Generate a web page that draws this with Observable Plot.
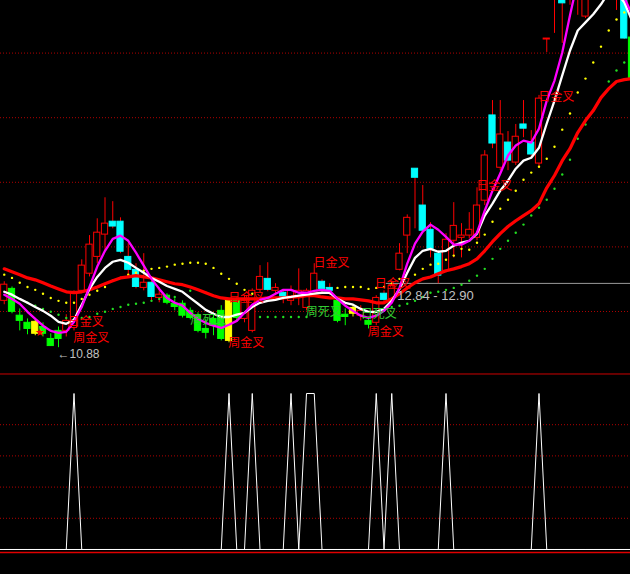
<!DOCTYPE html>
<html><head><meta charset="utf-8">
<script src="https://cdn.jsdelivr.net/npm/d3@7"></script>
<script src="https://cdn.jsdelivr.net/npm/@observablehq/plot@0.6"></script>
<style>html,body{margin:0;padding:0;background:#000;overflow:hidden}#chart svg{display:block}</style>
</head><body><div id="chart"></div>
<script>
// ---- daily candles (index 0..81) ----
const open = [12.33,12.70,11.87,11.65,11.68,11.52,11.15,11.40,11.40,11.49,
  12.64,13.17,13.69,14.38,14.78,14.78,13.69,13.29,12.73,12.89,
  12.42,12.49,12.24,12.24,12.02,11.87,11.46,11.77,12.02,12.33,
  12.33,11.77,11.40,12.67,13.01,12.64,12.58,12.33,12.45,12.11,
  12.55,12.92,12.73,12.33,11.90,12.11,11.87,11.71,11.65,12.55,
  12.39,13.29,14.35,16.42,15.28,14.53,13.79,13.26,14.19,14.28,
  14.35,14.28,15.43,18.07,16.45,17.23,16.61,17.79,17.23,16.58,
  20.42,21.94,21.94,21.79,22.25,21.13,22.25,22.87,24.11,23.49,
  21.79,20.48];
const close = [12.83,11.99,11.71,11.46,11.31,11.31,10.93,11.15,11.71,12.61,
  13.42,14.07,14.44,14.72,14.63,13.85,13.29,12.76,12.89,12.45,
  12.52,12.27,12.14,11.87,11.80,11.40,11.34,11.56,11.15,11.09,
  11.80,12.33,12.64,13.07,12.67,12.73,12.45,12.64,12.64,12.64,
  13.17,12.70,12.64,11.71,11.83,11.93,12.02,11.59,12.42,12.36,
  12.79,13.79,14.90,16.14,14.50,13.94,13.11,14.22,14.65,14.35,
  14.53,15.28,16.83,17.20,17.48,16.67,17.41,17.66,16.86,18.59,
  20.45,22.87,21.54,22.56,22.87,22.56,23.49,24.11,23.18,22.25,
  20.45,19.21];
const high = [12.92,12.76,12.08,11.77,11.74,11.65,11.31,11.52,11.90,12.64,
  13.60,14.35,14.87,15.52,15.40,14.90,14.10,13.48,13.79,12.95,
  12.73,12.55,12.39,12.33,12.11,11.96,11.77,11.96,12.18,12.39,
  12.42,12.49,12.70,13.42,13.51,12.86,12.64,12.79,13.32,12.70,
  13.48,12.98,12.86,12.39,12.08,12.18,12.18,11.83,12.49,12.64,
  12.95,14.10,14.99,16.42,15.90,14.75,13.88,14.41,15.37,14.72,
  15.06,15.83,16.98,18.53,18.53,17.57,17.79,18.53,17.60,18.69,
  20.45,23.18,22.25,22.87,23.18,22.87,23.80,24.42,24.42,23.80,
  22.25,20.70];
const low = [12.21,11.93,11.40,11.28,11.25,11.21,10.93,10.88,11.21,11.40,
  12.58,13.07,13.48,13.88,14.56,13.79,13.04,12.70,12.64,12.33,
  12.27,12.21,12.02,11.80,11.74,11.34,11.15,11.25,11.09,11.03,
  11.71,11.65,11.34,12.58,12.61,12.49,12.24,12.18,12.18,12.02,
  12.45,12.58,12.49,11.65,11.56,11.83,11.71,11.46,11.56,12.24,
  12.33,13.26,13.79,14.56,14.44,13.66,12.86,13.20,13.66,13.66,
  14.25,14.19,15.28,17.04,16.36,16.36,16.52,17.38,16.76,16.45,
  20.02,20.61,20.30,21.48,21.17,21.07,21.79,22.40,23.33,21.32,
  20.42,19.15];
// candle category: u = up, d = down, g = weak (green), y = signal (yellow)
const kind = ["u","g","g","g","y","g","g","g","u","u",
  "u","u","u","u","d","d","d","d","u","d",
  "u","g","g","g","g","g","g","g","g","y",
  "g","u","u","u","d","u","d","u","u","u",
  "u","d","d","g","g","y","u","g","u","d",
  "u","u","u","d","d","d","d","u","u","u",
  "u","u","u","d","u","d","u","d","d","u",
  "u","u","d","u","u","u","u","u","d","d",
  "d","g"];
// ---- moving averages ----
const maWhite = [12.61,12.52,12.39,12.27,12.14,12.02,11.87,11.68,11.62,11.74,
  12.21,12.70,13.07,13.35,13.54,13.60,13.51,13.35,13.20,13.04,
  12.92,12.79,12.70,12.61,12.42,12.24,12.05,11.93,11.83,11.83,
  11.90,11.96,12.14,12.27,12.33,12.36,12.42,12.45,12.49,12.52,
  12.55,12.58,12.58,12.39,12.27,12.21,12.08,11.99,11.99,12.08,
  12.33,12.70,13.20,13.66,13.88,13.94,13.85,13.88,14.04,14.13,
  14.19,14.41,14.97,15.34,15.74,16.05,16.42,16.67,16.76,17.07,
  17.82,18.53,19.31,20.08,20.70,20.95,21.20,21.51,21.88,21.88,
  21.57,21.01];
const maMagenta = [12.52,12.39,12.24,11.99,11.77,11.56,11.40,11.34,11.37,11.68,
  12.14,12.76,13.39,13.88,14.25,14.35,14.19,13.82,13.42,13.01,
  12.70,12.42,12.27,12.18,11.96,11.77,11.65,11.56,11.49,11.59,
  11.71,11.96,12.21,12.36,12.42,12.55,12.67,12.67,12.58,12.58,
  12.64,12.67,12.64,12.39,12.18,12.02,11.87,11.80,11.87,12.02,
  12.27,12.73,13.48,14.10,14.47,14.69,14.53,14.31,14.07,14.07,
  14.19,14.44,15.12,15.74,16.27,16.83,17.14,17.29,17.23,17.66,
  18.53,19.15,20.02,21.17,22.25,23.18,23.80,24.11,24.11,23.18,
  21.72,21.20];
const maRed = [13.32,13.23,13.14,13.04,12.98,12.89,12.79,12.70,12.61,12.58,
  12.61,12.67,12.76,12.86,12.95,13.04,13.07,13.11,13.07,13.04,
  12.98,12.92,12.86,12.83,12.76,12.67,12.58,12.49,12.42,12.39,
  12.39,12.39,12.39,12.39,12.42,12.42,12.42,12.45,12.45,12.49,
  12.49,12.45,12.42,12.42,12.39,12.39,12.36,12.33,12.27,12.27,
  12.39,12.55,12.73,12.89,13.01,13.07,13.17,13.26,13.32,13.39,
  13.48,13.63,13.88,14.16,14.41,14.63,14.81,14.97,15.12,15.34,
  15.83,16.21,16.67,17.04,17.54,17.91,18.22,18.62,18.90,19.12,
  19.18,19.21];
// ---- dotted bands ----
const dotYellow = [13.14,13.04,12.89,12.76,12.67,12.55,12.42,12.33,12.27,12.27,
  12.39,12.52,12.64,12.76,12.95,13.04,13.14,13.20,13.26,13.32,
  13.35,13.39,13.45,13.48,13.51,13.51,13.48,13.35,13.17,13.01,
  12.86,12.67,12.55,12.39,null,null,null,null,null,null,
  null,null,null,12.73,12.76,12.76,12.76,12.70,12.73,12.76,
  12.86,13.01,null,13.14,13.32,13.45,13.48,13.60,13.73,13.94,
  13.91,14.13,14.38,14.78,15.18,15.46,15.74,16.08,16.30,16.48,
  16.73,17.10,17.63,18.13,18.78,19.21,19.71,20.20,20.70,21.04,
  21.26,null];
const dotGreen = [null,null,null,12.27,12.18,12.08,11.99,11.90,11.80,11.77,
  11.80,11.83,11.93,11.99,12.08,12.14,12.21,12.24,12.27,12.33,
  12.39,12.42,12.45,null,12.64,null,12.58,null,null,null,
  null,null,null,11.83,11.83,11.83,11.83,11.83,11.83,11.83,
  null,null,null,null,null,null,null,null,null,null,
  12.14,12.18,12.24,12.33,12.45,12.58,12.61,12.67,12.73,12.83,
  12.95,13.11,13.32,13.63,13.94,14.19,14.44,14.69,14.97,15.21,
  15.46,15.80,16.24,16.70,17.35,17.79,18.22,18.62,19.12,19.46,
  19.71,null];
// ---- lower panel signal ----
const signalPeaks = [9,29,32,37,39,40,48,50,57,69];
const signalLevel = 100;
const signalGrid = [20,40,60,80];
// ---- annotations ----
const gridPrices = [12,14,16,18,20];
const rangeLow = 12.84, rangeHigh = 12.90, rangeStart = 49.3;
const lowValue = 10.88, lowIndex = 6.87;
const labelText  = ["日金叉","周金叉","周死叉","日金叉","周金叉","日金叉","周死叉","日死叉","周金叉","日金叉","日金叉","日金叉"];
const labelIdx   = [8.2,8.9,24.0,28.9,28.9,39.9,38.9,46.0,46.9,47.8,60.9,68.9];
const labelPrice = [11.68,11.16,11.74,12.42,11.03,13.51,11.99,11.93,11.37,12.86,15.87,18.65];
const starIdx = 4.55, starPrice = 11.34;

// ---- build ----
const n = open.length;
const idx = d3.range(n);
const signal = idx.map(i => signalPeaks.includes(i) ? signalLevel : 0);
const xDomain = [-0.484, 80.806];
const RED = "#ff0000", CYAN = "#00ffff", GREEN = "#00ff00", YELLOW = "#ffff00";
const bodyFill = k => k === "u" ? "#000" : k === "d" ? CYAN : k === "g" ? GREEN : YELLOW;
const wickColor = k => k === "g" ? GREEN : k === "y" ? YELLOW : RED;
const cjk = "'Noto Sans CJK SC', sans-serif";
const latin = "'Liberation Sans', Arial, sans-serif";
const labels = labelText.map((t, j) => ({t, i: labelIdx[j], p: labelPrice[j]}));

const topPlot = Plot.plot({
  width: 630, height: 373, margin: 0,
  style: {background: "#000", overflow: "hidden"},
  x: {domain: xDomain, axis: null},
  y: {domain: [10.0805, 21.628], axis: null},
  color: {type: "identity"},
  marks: [
    Plot.ruleY(gridPrices, {stroke: "#b00000", strokeDasharray: "1,2"}),
    Plot.ruleY([(rangeLow + rangeHigh) / 2], {x1: rangeStart, x2: 82, stroke: "#9a9a9a", clip: true}),
    Plot.ruleX(idx, {x: i => i, y1: i => low[i], y2: i => high[i], stroke: i => wickColor(kind[i]), clip: true}),
    Plot.rect(idx, {x1: i => i - 0.4, x2: i => i + 0.4,
      y1: i => Math.min(open[i], close[i]), y2: i => Math.max(open[i], close[i]),
      fill: i => bodyFill(kind[i]), stroke: i => kind[i] === "u" ? RED : bodyFill(kind[i]), strokeWidth: 1, clip: true}),
    Plot.dot(idx.filter(i => dotYellow[i] != null), {x: i => i, y: i => dotYellow[i], r: 1.2, fill: YELLOW, clip: true}),
    Plot.dot(idx.filter(i => dotGreen[i] != null), {x: i => i, y: i => dotGreen[i], r: 1.2, fill: "#22dd22", clip: true}),
    Plot.line(idx, {x: i => i, y: i => maRed[i], stroke: RED, strokeWidth: 3.2, clip: true}),
    Plot.line(idx, {x: i => i, y: i => maWhite[i], stroke: "#ffffff", strokeWidth: 2.3, clip: true}),
    Plot.line(idx, {x: i => i, y: i => maMagenta[i], stroke: "#ff00ff", strokeWidth: 2.3, clip: true}),
    Plot.text(labels, {x: "i", y: "p", text: "t", textAnchor: "start", fontSize: 12, fontFamily: cjk,
      fill: d => d.t.includes("死") ? "#33cc33" : RED}),
    Plot.text([starPrice], {x: starIdx, y: d => d, text: () => "★", fill: RED, fontSize: 11}),
    Plot.text([lowValue], {x: lowIndex, y: d => d - 0.21, text: d => "←" + d.toFixed(2), textAnchor: "start",
      fill: "#c0c0c0", fontSize: 12, fontFamily: latin}),
    Plot.text([rangeLow], {x: rangeStart + 1.4, y: d => d - 0.36, text: () => `${rangeLow.toFixed(2)} - ${rangeHigh.toFixed(2)}`,
      textAnchor: "start", fill: "#c0c0c0", fontSize: 13, fontFamily: latin})
  ]
});

const bottomPlot = Plot.plot({
  width: 630, height: 201, margin: 0,
  style: {background: "#000"},
  x: {domain: xDomain, axis: null},
  y: {domain: [-16.03, 112.82], axis: null},
  marks: [
    Plot.ruleY([112.5], {stroke: "#cc0000"}),
    Plot.ruleY(signalGrid, {stroke: "#b00000", strokeDasharray: "1,2"}),
    Plot.ruleY([-2], {stroke: "#e00000", strokeWidth: 1.5}),
    Plot.ruleY([0], {stroke: "#ffffff", strokeWidth: 1}),
    Plot.line(idx, {x: i => i, y: i => signal[i], stroke: "#ffffff", strokeWidth: 1, clip: true})
  ]
});

const root = document.getElementById("chart");
root.append(topPlot, bottomPlot);
</script>
</body></html>
